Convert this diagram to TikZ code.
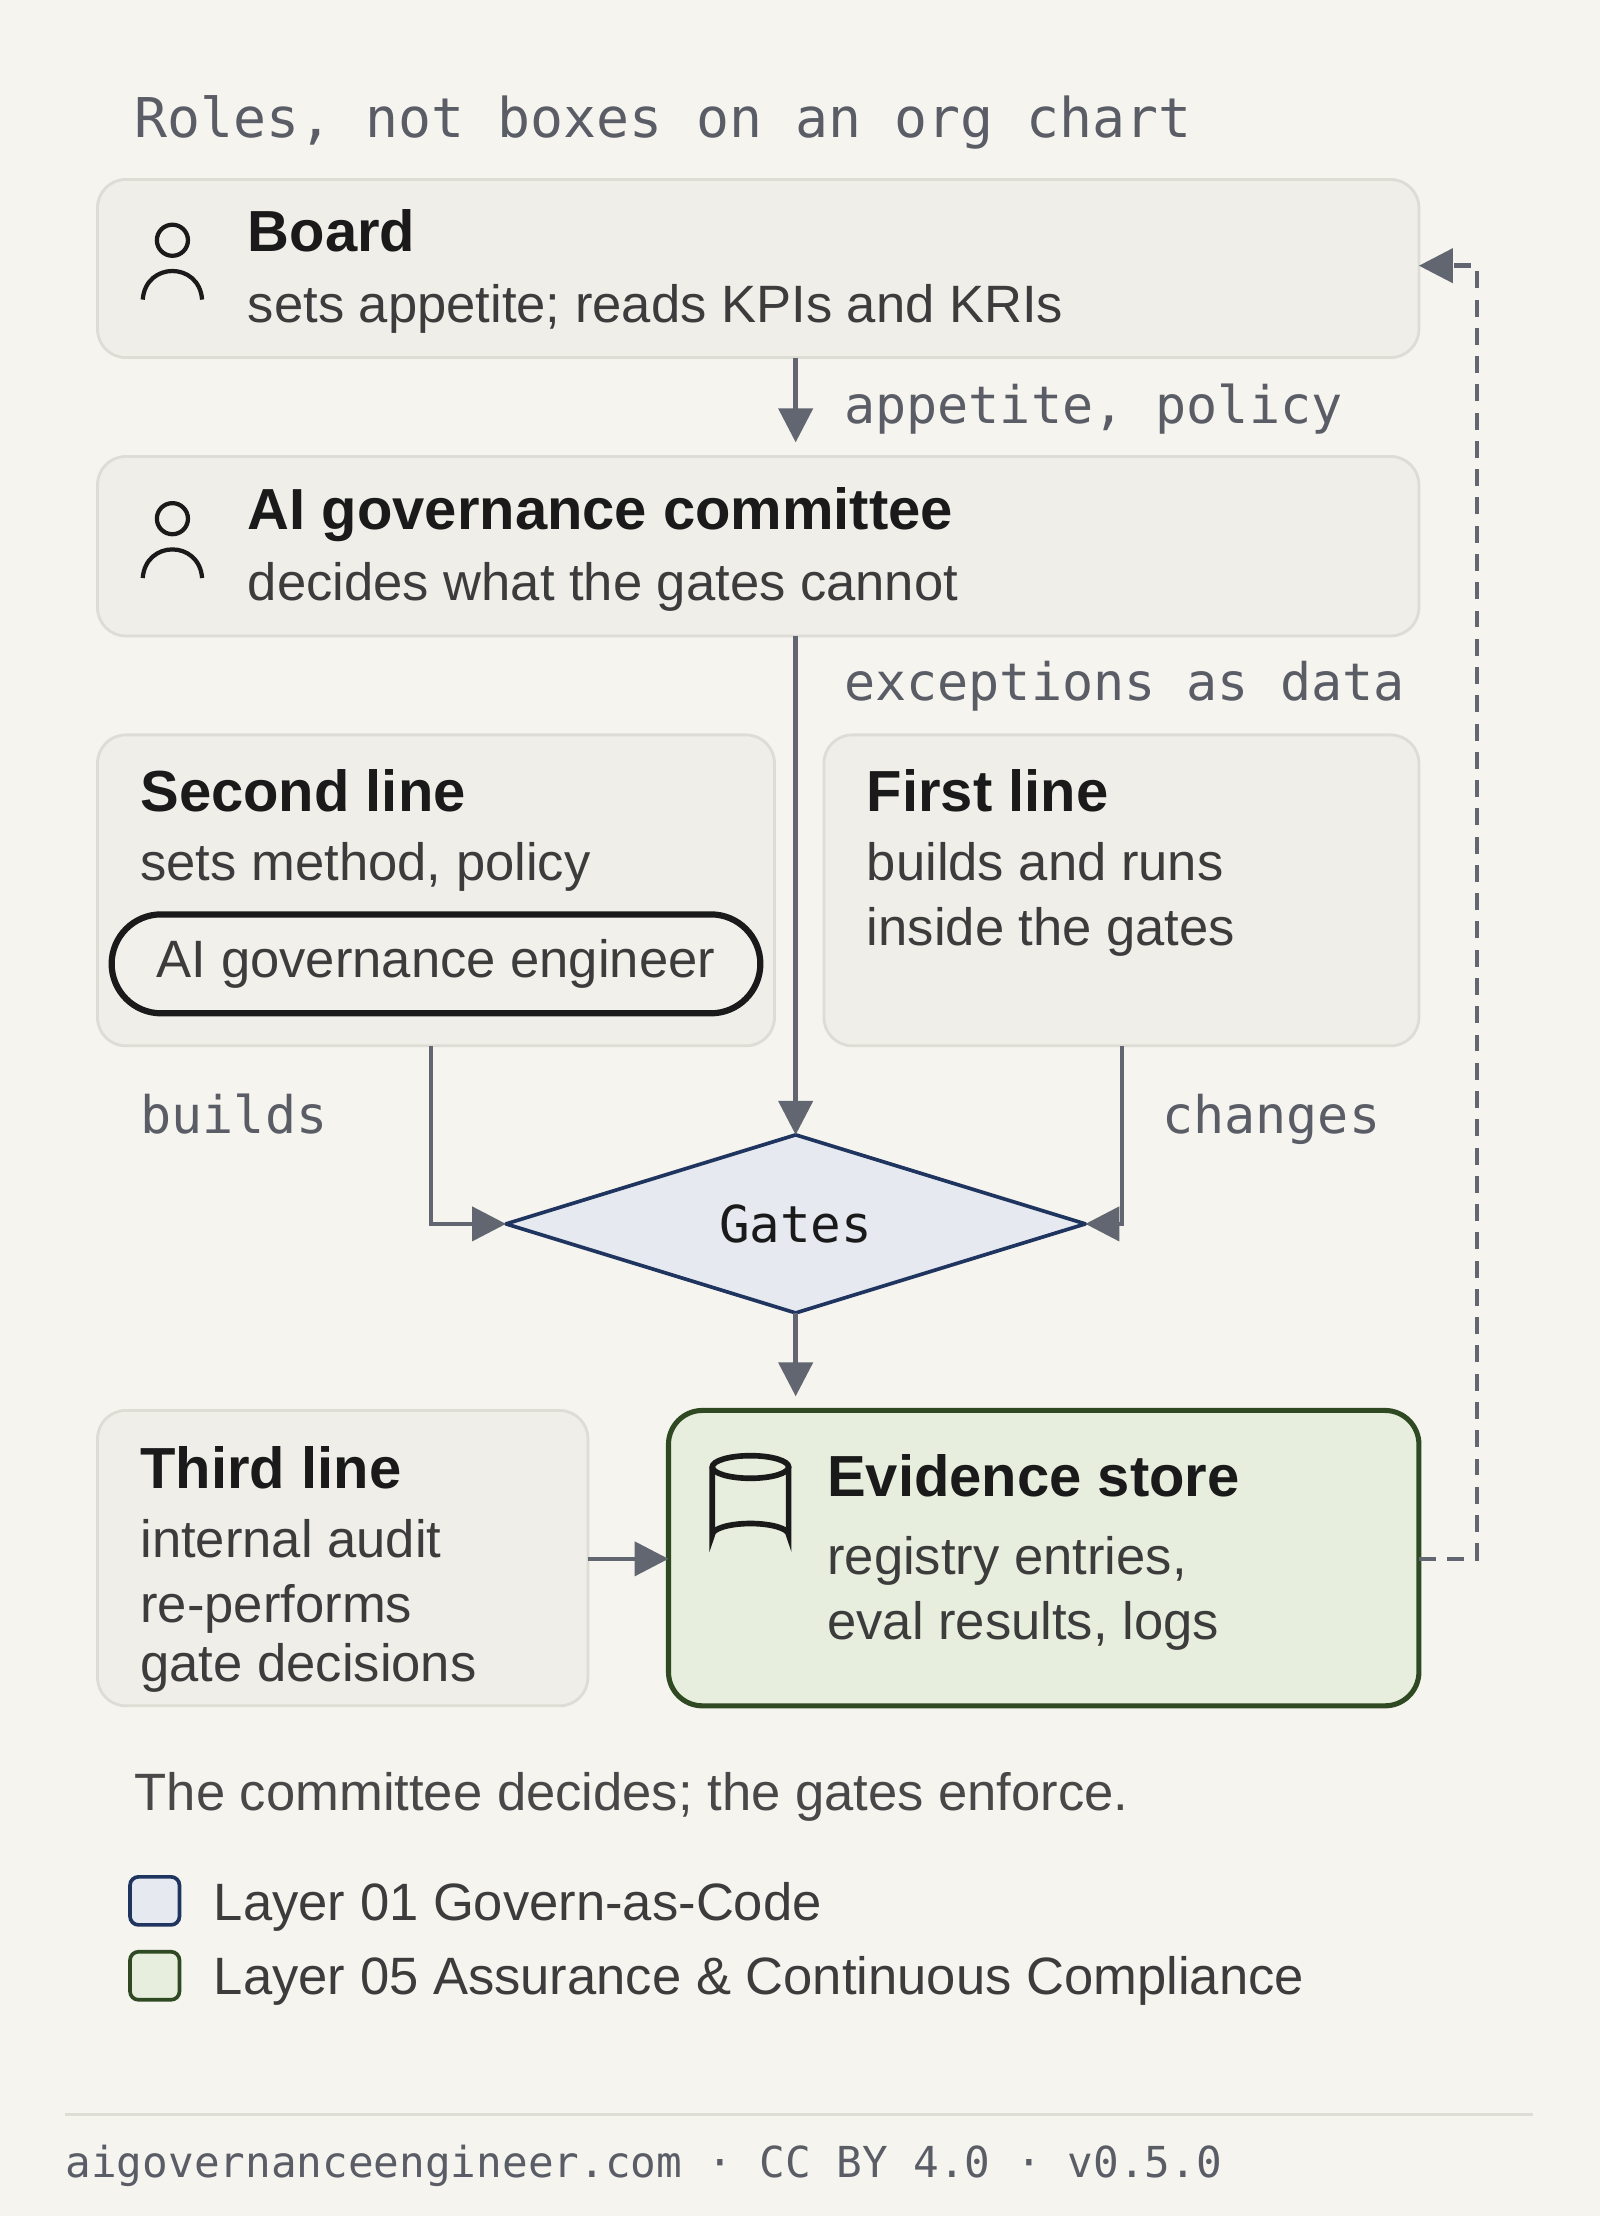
\documentclass[tikz,border=0pt]{standalone}
\usepackage{fontspec}
\setmainfont{Liberation Sans}
\setmonofont{DejaVu Sans Mono}
\usetikzlibrary{arrows.meta}
\definecolor{bg}{HTML}{F5F4EF}
\definecolor{boxf}{HTML}{EFEEE9}
\definecolor{boxd}{HTML}{DDDCD5}
\definecolor{ink}{HTML}{1A1A1A}
\definecolor{gray1}{HTML}{5A5D66}
\definecolor{arr}{HTML}{626670}
\definecolor{bluef}{HTML}{E6EAF0}
\definecolor{blued}{HTML}{1F3560}
\definecolor{greenf}{HTML}{E7EEDD}
\definecolor{greend}{HTML}{2F4A22}
\begin{document}
\begin{tikzpicture}[x=0.5pt,y=-0.5pt,
  box/.style={draw=boxd,fill=boxf,line width=1pt,rounded corners=10pt},
  ttl/.style={anchor=base west,inner sep=0,font=\fontsize{20.5}{24}\selectfont\bfseries,text=ink},
  sub/.style={anchor=base west,inner sep=0,font=\fontsize{18.6}{21}\selectfont,text=ink!85},
  lbl/.style={anchor=base west,inner sep=0,font=\fontsize{18.3}{22}\ttfamily,text=gray1},
  con/.style={draw=arr,line width=1.6pt,-{Triangle[length=12pt,width=12pt]}},
  icon/.style={draw=ink,line width=1.5pt}]
\fill[bg] (0,0) rectangle (1132,1568);
\useasboundingbox (0,0) rectangle (1132,1568);
\node[lbl,font=\fontsize{19.4}{22}\ttfamily] (title) at (95,97) {Roles, not boxes on an org chart};
% Board
\draw[box] (69,127) rectangle (1004,253);
\coordinate (boardB) at (563,253); \coordinate (boardR) at (1004,188);
\draw[icon] (122,170) circle (11);
\draw[icon] (101,212) .. controls (103,185) and (141,185) .. (143,212);
\node[ttl] (board) at (175,178) {Board};
\node[sub] (boardsub) at (175,228) {sets appetite; reads KPIs and KRIs};
% Committee
\draw[box] (69,323) rectangle (1004,450);
\coordinate (comT) at (563,313); \coordinate (comB) at (563,450);
\draw[icon] (122,367) circle (11);
\draw[icon] (101,409) .. controls (103,382) and (141,382) .. (143,409);
\node[ttl] (com) at (175,375) {AI governance committee};
\node[sub] (comsub) at (175,425) {decides what the gates cannot};
\draw[con] (boardB) -- (comT);
\node[lbl] (l1) at (597,300) {appetite, policy};
% Second line
\draw[box] (69,520) rectangle (548,740);
\coordinate (secB) at (305,740);
\node[ttl] (sec) at (99,574) {Second line};
\node[sub] (secsub) at (99,623) {sets method, policy};
\draw[draw=ink,line width=2.2pt,rounded corners=17.5pt,fill=bg!40!boxf] (79,647) rectangle (538,717);
\node[sub,anchor=center] (pill) at (308.5,682) {AI governance engineer};
% First line
\draw[box] (583,520) rectangle (1004,740);
\coordinate (firB) at (794,740);
\node[ttl] (fir) at (613,574) {First line};
\node[sub] (firsub) at (613,623) {builds and runs};
\node[sub] (firsub2) at (613,669) {inside the gates};
% Gates
\coordinate (gN) at (563,803); \coordinate (gS) at (563,929);
\coordinate (gW) at (358,866); \coordinate (gE) at (768,866);
\draw[draw=blued,fill=bluef,line width=1.3pt,line join=round] (gN) -- (gE) -- (gS) -- (gW) -- cycle;
\node[font=\fontsize{18}{22}\ttfamily,text=ink] (gates) at (563,866) {Gates};
\draw[con] (comB) -- (gN);
\node[lbl] (l2) at (597,496) {exceptions as data};
\draw[con] (secB) |- (gW);
\draw[con] (firB) |- (gE);
\node[lbl] (l3) at (99,802) {builds};
\node[lbl] (l4) at (822,802) {changes};
% Third line
\draw[box] (69,998) rectangle (416,1207);
\coordinate (thiR) at (416,1103);
\node[ttl] (thi) at (99,1053) {Third line};
\node[sub] (t1) at (99,1102) {internal audit};
\node[sub] (t2) at (99,1148) {re-performs};
\node[sub] (t3) at (99,1190) {gate decisions};
% Evidence
\draw[draw=greend,fill=greenf,line width=1.8pt,rounded corners=12pt] (473,998) rectangle (1004,1207);
\coordinate (evT) at (563,988); \coordinate (evL) at (473,1103); \coordinate (evR) at (1004,1103);
\draw[icon,line width=2pt] (504,1038) -- (504,1086) arc[start angle=180,end angle=360,x radius=27,y radius=8] -- (558,1038);
\draw[icon,line width=2pt] (531,1038) ellipse (27 and 8);
\node[ttl] (ev) at (585,1059) {Evidence store};
\node[sub] (e1) at (585,1114) {registry entries,};
\node[sub] (e2) at (585,1160) {eval results, logs};
\draw[con] (gS) -- (evT);
\draw[con] (thiR) -- (evL);
\draw[con,dashed,dash pattern=on 6pt off 4pt] (evR) -- (1045,1103) -- (1045,188) -- (boardR);
% Caption
\node[sub,text=ink!80] (cap) at (95,1281) {The committee decides; the gates enforce.};
\draw[draw=blued,fill=bluef,line width=1.3pt,rounded corners=3pt] (92,1328) rectangle (127,1362);
\node[sub] (lg1) at (151,1359) {Layer 01 Govern-as-Code};
\draw[draw=greend,fill=greenf,line width=1.3pt,rounded corners=3pt] (92,1381) rectangle (127,1415);
\node[sub] (lg2) at (151,1411) {Layer 05 Assurance \& Continuous Compliance};
\draw[boxd,line width=1.2pt] (46,1496) -- (1085,1496);
\node[lbl,font=\fontsize{15.1}{20}\ttfamily] (foot) at (46,1541) {aigovernanceengineer.com · CC BY 4.0 · v0.5.0};
\end{tikzpicture}
\end{document}
